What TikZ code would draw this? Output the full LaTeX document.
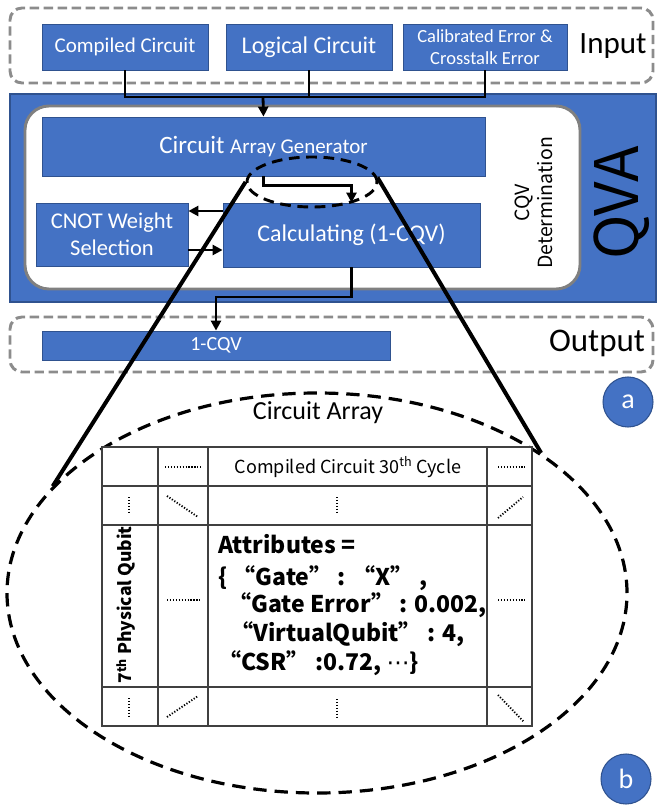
\documentclass[tikz,border=0pt]{standalone}
\usepackage{fontspec}
\setmainfont{Carlito}
\newfontfamily\cjk{Noto Sans CJK SC}
\newfontfamily\dvs{DejaVu Sans}
\usetikzlibrary{arrows.meta,shapes.geometric,fit}
\definecolor{qblue}{HTML}{4472C4}
\definecolor{qdark}{HTML}{2F528F}
\definecolor{qgray}{HTML}{8C8C8C}
\newcommand\fpx[1]{\fontsize{\dimexpr#1pt*3/4\relax}{\dimexpr#1pt*9/10\relax}\selectfont}
\tikzset{
 bluebox/.style={fill=qblue, draw=qdark, line width=0.6pt, text=white, inner sep=0pt, align=center},
 bsize/.style 2 args={minimum width=#1*0.75pt, minimum height=#2*0.75pt},
 grpbox/.style={draw=qgray, line width=2.2pt, dash pattern=on 7pt off 3.5pt, rounded corners=9pt, inner sep=0pt},
 conn/.style={line width=2.1pt, black},
 arr/.style={conn, -{Triangle[length=7.5pt,width=7.5pt]}},
 zoomln/.style={line width=3pt, black},
 dashell/.style={ellipse, draw=black, line width=2.2pt, dash pattern=on 8pt off 5pt, inner sep=0pt},
 dots/.style={line width=1.4pt, dash pattern=on 0.9pt off 1.3pt},
 tline/.style={draw=black!75, line width=1.1pt},
 lbl/.style={circle, fill=qblue, draw=qdark, line width=0.8pt, minimum size=37.5pt, text=white, inner sep=0pt},
 attr/.style={anchor=base west, font=\cjk\bfseries\fpx{23}, inner sep=0pt},
}
\begin{document}
\begin{tikzpicture}[x=0.75pt,y=-0.75pt]
\useasboundingbox (0,0) rectangle (656,805);
% Input group
\node[grpbox, fit={(10,8)(653,83)}] (inbox) {};
\node[bluebox, bsize={166}{46}, font=\fpx{21}] (cc) at (125,47) {Compiled Circuit};
\node[bluebox, bsize={166}{46}, font=\fpx{24}] (lc) at (309,47) {Logical Circuit};
\node[bluebox, bsize={164}{46}, font=\fpx{18.5}] (ce) at (485,47) {Calibrated Error \&\\Crosstalk Error};
\node[font=\fpx{31}] (inlbl) at (613,46) {Input};
% QVA band
\node[fill=qblue, draw=qdark, line width=2.2pt, inner sep=0pt, fit={(10,94)(656,302)}] (qva) {};
\node[fill=white, draw=gray, line width=2.2pt, rounded corners=18pt, inner sep=0pt, fit={(25,106)(580,289)}] (cqv) {};
\node[bluebox, bsize={443}{59}] (cag) at (263.5,146.5) {\fpx{25}Circuit \fpx{21}Array Generator};
\node[bluebox, bsize={152}{63}, font=\fpx{22.5}] (cnot) at (112,234.5) {CNOT Weight\\Selection};
\node[bluebox, bsize={257}{64}, font=\fpx{24}] (calc) at (351.5,235) {Calculating (1-CQV)};
\node[rotate=90, font=\cjk\fpx{19.5}, align=center] (det) at (534,203) {CQV\\Determination};
\node[rotate=90, font=\cjk\fpx{60}] (qvalbl) at (622,203) {QVA};
% Output group
\node[grpbox, fit={(10,317)(653,372)}] (outbox) {};
\node[bluebox, bsize={348}{29}, font=\fpx{20}] (res) at (216,345.5) {1-CQV};
\node[font=\fpx{33}] (outlbl) at (597,343) {Output};
% connectors
\coordinate (bus) at (263,97);
\coordinate (ya) at (0,211);
\coordinate (yb) at (0,250);
\coordinate (yc) at (0,297);
\draw[conn] (cc.south) -- (cc.south |- bus) -- (ce.south |- bus) -- (ce.south);
\draw[conn] (lc.south) -- (lc.south |- bus);
\draw[arr] (bus) -- (cag.north);
\draw[arr] (cag.south) -- ++(0,9) -| (calc.north);
\draw[arr] (calc.west |- ya) -- (cnot.east |- ya);
\draw[arr] (cnot.east |- yb) -- (calc.west |- yb);
\draw[arr] (calc.south) -- (calc.south |- yc) -- (res.north |- yc) -- (res.north);
% ellipses
\node[dashell, minimum width=97.5pt, minimum height=37.5pt] (sel) at (312,182) {};
\node[dashell, line width=2.4pt, dash pattern=on 10pt off 6pt, minimum width=465pt, minimum height=300pt] (bel) at (317,593) {};
\draw[zoomln] (sel.180) -- (bel.158);
\draw[zoomln] (sel.4) -- (bel.32);
\node[font=\fpx{26}] (calbl) at (318,413) {Circuit Array};
% table
\node[tline, fill=white, inner sep=0pt, fit={(102,447)(532,726)}] (tbl) {};
\draw[tline] (158,447) -- (158,726);
\draw[tline] (208,447) -- (208,726);
\draw[tline] (487,447) -- (487,726);
\draw[tline] (102,486) -- (532,486);
\draw[tline] (102,525) -- (532,525);
\draw[tline] (102,687) -- (532,687);
% dotted cell marks
\draw[dots] (165,467) -- (201,467);
\draw[dots] (498,467) -- (525,467);
\draw[dots] (129,497) -- (129,514);
\draw[dots] (167,496) -- (198,517);
\draw[dots] (337,497) -- (337,514);
\draw[dots] (498,518) -- (523,497);
\draw[dots] (167,600) -- (200,600);
\draw[dots] (498,600) -- (525,600);
\draw[dots] (129,698) -- (129,716);
\draw[dots] (167,717) -- (198,696);
\draw[dots] (337,699) -- (337,717);
\draw[dots] (498,695) -- (524,722);
% cell texts
\node[font=\cjk\fpx{18}] (hdr) at (348,467) {Compiled Circuit 30\textsuperscript{th} Cycle};
\node[rotate=90, font=\cjk\bfseries\fpx{17.5}] (qub) at (126,605) {7\textsuperscript{th} Physical Qubit};
\node[attr] (at1) at (218,553) {Attributes =};
\node[attr] (at2) at (218,585) {\{ “Gate” : “X” ,};
\node[attr] (at3) at (228,612) {“Gate Error” : 0.002,};
\node[attr] (at4) at (230,641) {“VirtualQubit” : 4,};
\node[attr] (at5) at (218,670) {“CSR” :0.72, {\dvs\mdseries ⋯}\}};
% circle labels
\node[lbl, font=\fpx{28}] (la) at (628,402) {a};
\node[lbl, font=\fpx{28}] (lb) at (626,779) {b};
\end{tikzpicture}
\end{document}
